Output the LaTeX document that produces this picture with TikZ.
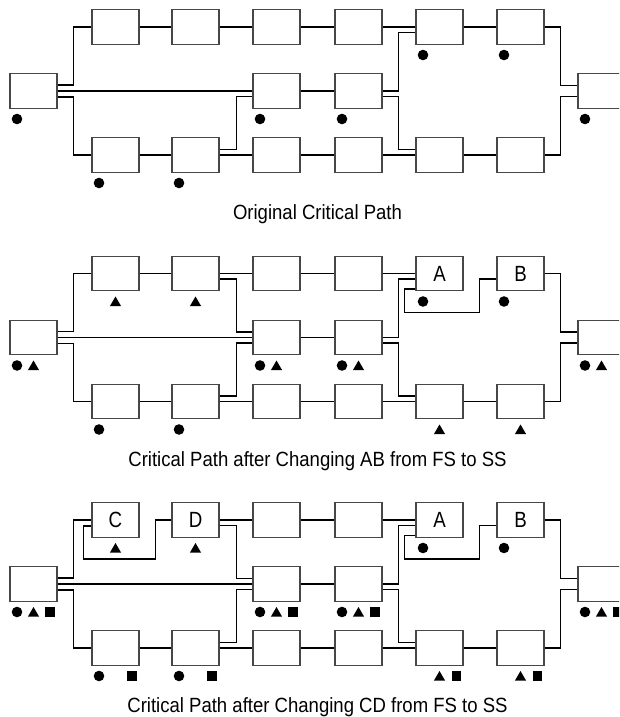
\documentclass[tikz,border=0pt]{standalone}
\usepackage{fontspec}
\newfontfamily\tf{Liberation Sans}[FakeStretch=0.9]
\newfontfamily\lf{Liberation Sans}[FakeStretch=0.85]
\usetikzlibrary{calc}
\tikzset{
  bx/.style={draw=black!72, line width=1.1pt, fill=white, minimum width=47pt,
    minimum height=34.5pt, inner sep=0pt, font=\lf\fontsize{22}{24}\selectfont},
  cn/.style={line width=1.5pt, draw=black},
  ttl/.style={font=\tf\fontsize{20.6}{24}\selectfont, anchor=base, inner sep=0pt}
}
\newcommand\placeboxes[5]{%
  \node[bx] (#1s) at (33.5,91) {};
  \node[bx] (#1t1) at (115.5,27) {#2};
  \node[bx] (#1t2) at (195.5,27) {#3};
  \node[bx] (#1t3) at (276.5,27) {};
  \node[bx] (#1t4) at (358.5,27) {};
  \node[bx] (#1t5) at (439.5,27) {#4};
  \node[bx] (#1t6) at (520.5,27) {#5};
  \node[bx] (#1m3) at (276.5,91) {};
  \node[bx] (#1m4) at (358.5,91) {};
  \node[bx] (#1b1) at (115.5,155) {};
  \node[bx] (#1b2) at (195.5,155) {};
  \node[bx] (#1b3) at (276.5,155) {};
  \node[bx] (#1b4) at (358.5,155) {};
  \node[bx] (#1b5) at (439.5,155) {};
  \node[bx] (#1b6) at (520.5,155) {};
  \node[bx] (#1e) at (601.5,91) {};
}
\newcommand\commonlinks[1]{%
  \draw[cn] (#1s.east) -- (#1m3.west);
  \draw[cn] ([yshift=6pt]#1s.east) -| ([xshift=-18pt]#1t1.west) -- (#1t1.west);
  \draw[cn] ([yshift=-6pt]#1s.east) -| ([xshift=-18pt]#1b1.west) -- (#1b1.west);
  \draw[cn] (#1b1) -- (#1b2);
  \draw[cn] (#1b2) -- (#1b3);
  \draw[cn] (#1b3) -- (#1b4);
  \draw[cn] (#1b4) -- (#1b5);
  \draw[cn] (#1b5) -- (#1b6);
  \draw[cn] ([yshift=5.5pt]#1b2.east) -| ([xshift=-16pt,yshift=-5.5pt]#1m3.west) -- ([yshift=-5.5pt]#1m3.west);
  \draw[cn] (#1m3) -- (#1m4);
  \draw[cn] (#1m4.east) -| ([xshift=-17pt,yshift=-5.5pt]#1t5.west) -- ([yshift=-5.5pt]#1t5.west);
  \draw[cn] ([yshift=-5.5pt]#1m4.east) -| ([xshift=-17pt,yshift=5.5pt]#1b5.west) -- ([yshift=5.5pt]#1b5.west);
  \draw[cn] (#1t3) -- (#1t4);
  \draw[cn] (#1t4) -- (#1t5);
  \draw[cn] (#1t6.east) -| ([xshift=-17pt,yshift=5.5pt]#1e.west) -- ([yshift=5.5pt]#1e.west);
  \draw[cn] (#1b6.east) -| ([xshift=-17pt,yshift=-5.5pt]#1e.west) -- ([yshift=-5.5pt]#1e.west);
}
\newcommand\tdlink[1]{%
  \draw[cn] ([yshift=-5.5pt]#1t2.east) -| ([xshift=-16pt,yshift=5.5pt]#1m3.west) -- ([yshift=5.5pt]#1m3.west);
}
\newcommand\abss[1]{%
  \draw[cn] ([yshift=-15.5pt]#1t5.west) -- ++(-11,0) |- ([xshift=-17pt,yshift=-38.75pt]#1t6.west) |- ([yshift=-5.5pt]#1t6.west);
}
\newcommand\mdot[2]{\fill ($(#1.south)+(#2,10.2)$) circle (5.3pt);}
\newcommand\mtri[2]{\fill ($(#1.south)+(#2,10.2)$) ++(-5.6,4.6) -- ++(11.2,0) -- ++(-5.6,-9.6) -- cycle;}
\newcommand\msq[2]{\fill ($(#1.south)+(#2,10.2)$) +(-4.7,-4.7) rectangle +(4.7,4.7);}
\begin{document}
\begin{tikzpicture}[x=1pt,y=-1pt]
\useasboundingbox (0,0) rectangle (619,717);
\clip (0,0) rectangle (619,717);
% ---------------- Diagram 1 ----------------
\placeboxes{a}{}{}{}{}
\commonlinks{a}
\draw[cn] (at1) -- (at2);
\draw[cn] (at2) -- (at3);
\draw[cn] (at5) -- (at6);
\mdot{as}{-16.5} \mdot{am3}{-16.5} \mdot{am4}{-16.5} \mdot{at5}{-16.5}
\mdot{at6}{-16.5} \mdot{ae}{-16.5} \mdot{ab1}{-16.5} \mdot{ab2}{-16.5}
\node[ttl] (title1) at (317.5,219.5) {Original Critical Path};
% ---------------- Diagram 2 ----------------
\begin{scope}[yshift=-246.5pt]
\placeboxes{b}{}{}{A}{B}
\commonlinks{b}
\draw[cn] (bt1) -- (bt2);
\draw[cn] (bt2) -- (bt3);
\tdlink{b}
\abss{b}
\mtri{bt1}{0} \mtri{bt2}{0}
\mdot{bs}{-16.5} \mtri{bs}{0}
\mdot{bm3}{-16.5} \mtri{bm3}{0}
\mdot{bm4}{-16.5} \mtri{bm4}{0}
\mdot{be}{-16.5} \mtri{be}{0}
\mdot{bt5}{-16.5} \mdot{bt6}{-16.5}
\mdot{bb1}{-16.5} \mdot{bb2}{-16.5}
\mtri{bb5}{0} \mtri{bb6}{0}
\node[ttl] (title2) at (317.5,219.5) {Critical Path after Changing AB from FS to SS};
\end{scope}
% ---------------- Diagram 3 ----------------
\begin{scope}[yshift=-493pt]
\placeboxes{c}{C}{D}{A}{B}
\commonlinks{c}
\draw[cn] ([yshift=-6pt]ct1.west) -- ++(-8,0) |- ([xshift=-16pt,yshift=-38.75pt]ct2.west) |- (ct2.west);
\draw[cn] (ct2) -- (ct3);
\tdlink{c}
\abss{c}
\mtri{ct1}{0} \mtri{ct2}{0}
\mdot{cs}{-16.5} \mtri{cs}{0} \msq{cs}{16.5}
\mdot{cm3}{-16.5} \mtri{cm3}{0} \msq{cm3}{16.5}
\mdot{cm4}{-16.5} \mtri{cm4}{0} \msq{cm4}{16.5}
\mdot{ce}{-16.5} \mtri{ce}{0} \msq{ce}{16.5}
\mdot{ct5}{-16.5} \mdot{ct6}{-16.5}
\mdot{cb1}{-16.5} \msq{cb1}{16.5}
\mdot{cb2}{-16.5} \msq{cb2}{16.5}
\mtri{cb5}{0} \msq{cb5}{17}
\mtri{cb6}{0} \msq{cb6}{17}
\node[ttl] (title3) at (317.5,219) {Critical Path after Changing CD from FS to SS};
\end{scope}
\end{tikzpicture}
\end{document}
